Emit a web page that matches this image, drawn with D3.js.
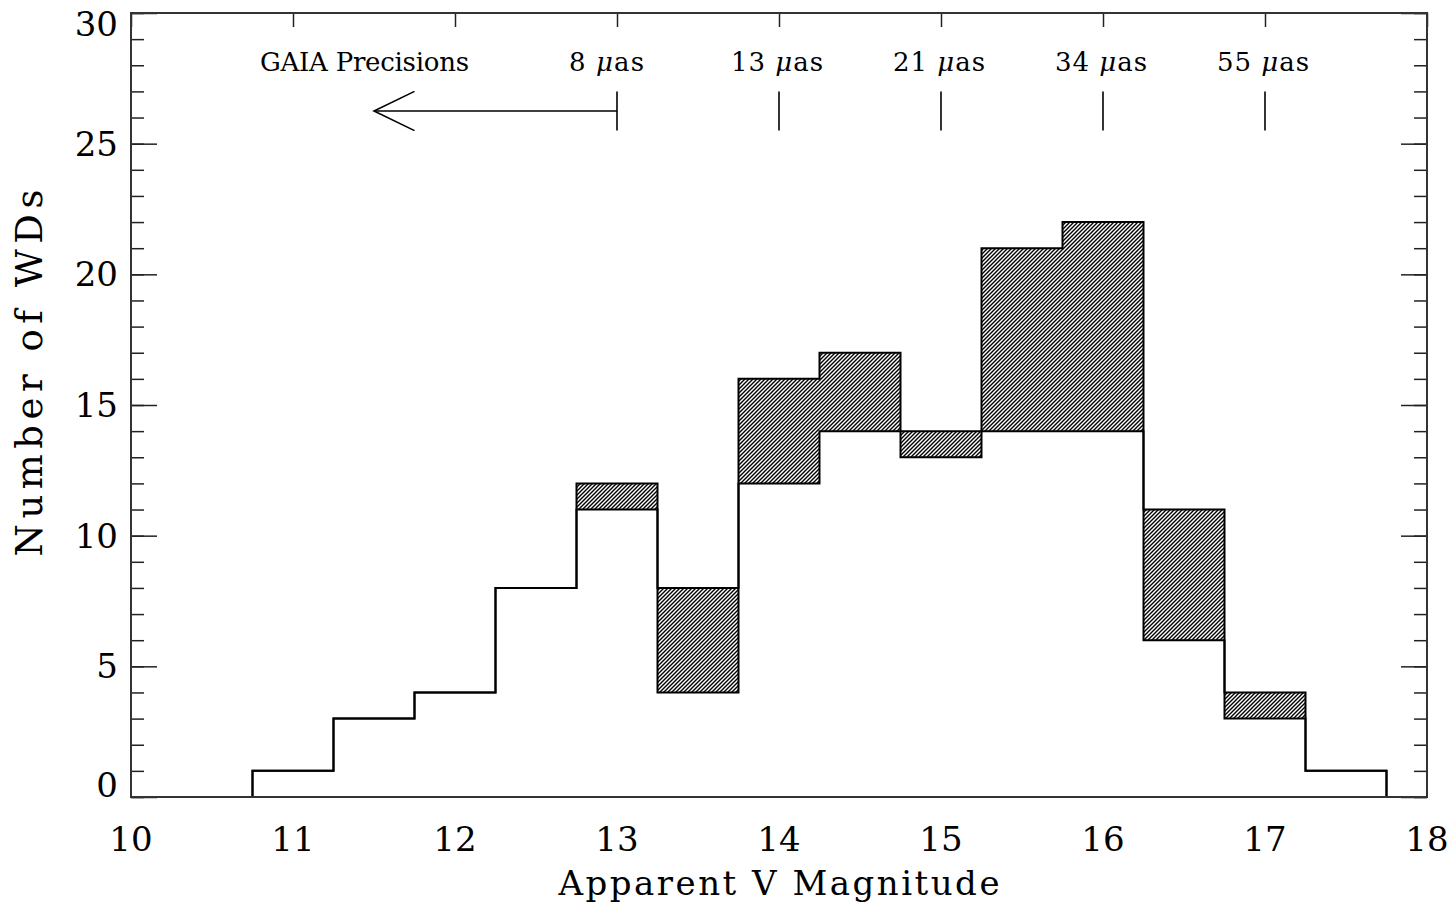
<!DOCTYPE html>
<html lang="en">
<head>
<script src="https://d3js.org/d3.v7.min.js"></script>
<style>
    body { margin: 0; background: #fff; }
    text { font-family: "DejaVu Serif", serif; fill: #000; }
</style>
</head>
<body>
<svg id="chart" width="1453" height="907"></svg>
<script>
// histogram of white dwarfs per 0.5 mag bin
const binCenters = [11, 11.5, 12, 12.5, 13, 13.5, 14, 14.5, 15, 15.5, 16, 16.5, 17, 17.5];
const allCounts  = [1, 3, 4, 8, 12, 8, 16, 17, 14, 21, 22, 11, 4, 1];
const baseCounts = [1, 3, 4, 8, 11, 4, 12, 14, 13, 14, 14, 6, 3, 1];
const binWidth = 0.5;
const histStart = 10.5;
const histEnd = 18;

// GAIA precision markers
const precisionMags = [13, 14, 15, 16, 17];
const precisionLabels = ["8", "13", "21", "34", "55"];

const xTickValues = [10, 11, 12, 13, 14, 15, 16, 17, 18];
const yMajorTicks = [0, 5, 10, 15, 20, 25, 30];

const svg = d3.select("#chart");
const margin = {top: 13, right: 26, bottom: 110, left: 131};
const width = 1453, height = 907;

const x = d3.scaleLinear().domain([10, 18]).range([margin.left, width - margin.right]);
const y = d3.scaleLinear().domain([0, 30]).range([height - margin.bottom, margin.top]);

const defs = svg.append("defs");
defs.append("pattern")
    .attr("id", "hatch")
    .attr("patternUnits", "userSpaceOnUse")
    .attr("width", 4).attr("height", 4)
    .append("path")
    .attr("d", "M-1,1 l2,-2 M0,4 l4,-4 M3,5 l2,-2")
    .attr("stroke", "#000")
    .attr("stroke-width", 1.4);

// step points: left edge of each bin, then closing edge
const lastEdge = binCenters[binCenters.length - 1] + binWidth / 2;
const stepPts = binCenters.map((c, i) => ({e: c - binWidth / 2, all: allCounts[i], base: baseCounts[i]}));
stepPts.push({e: lastEdge, all: 0, base: 0});

// hatched excess between the two histograms
svg.append("path")
    .datum(stepPts)
    .attr("fill", "url(#hatch)")
    .attr("stroke", "none")
    .attr("d", d3.area()
        .x(d => x(d.e))
        .y0(d => y(d.base))
        .y1(d => y(d.all))
        .curve(d3.curveStepAfter));

const stepLine = key => d3.line().x(d => x(d.e)).y(d => y(d[key])).curve(d3.curveStepAfter);
const outline = [{e: histStart, all: 0, base: 0}].concat(stepPts, [{e: histEnd, all: 0, base: 0}]);

["all", "base"].forEach(key => {
    svg.append("path")
        .datum(outline)
        .attr("fill", "none")
        .attr("stroke", "#000")
        .attr("stroke-width", 2)
        .attr("d", stepLine(key));
});

// axes
svg.append("g")
    .attr("transform", `translate(${margin.left},0)`)
    .call(d3.axisRight(y).tickValues(d3.range(0, 31)).tickSize(13).tickFormat(""))
    .call(g => g.select(".domain").remove());
svg.append("g")
    .attr("transform", `translate(${margin.left},0)`)
    .call(d3.axisRight(y).tickValues(yMajorTicks).tickSize(26).tickFormat(""))
    .call(g => g.select(".domain").remove());
svg.append("g")
    .attr("transform", `translate(${width - margin.right},0)`)
    .call(d3.axisLeft(y).tickValues(d3.range(0, 31)).tickSize(13).tickFormat(""))
    .call(g => g.select(".domain").remove());
svg.append("g")
    .attr("transform", `translate(${width - margin.right},0)`)
    .call(d3.axisLeft(y).tickValues(yMajorTicks).tickSize(26).tickFormat(""))
    .call(g => g.select(".domain").remove());
svg.append("g")
    .attr("transform", `translate(0,${margin.top})`)
    .call(d3.axisBottom(x).tickValues(xTickValues).tickSize(14).tickFormat(""))
    .call(g => g.select(".domain").remove());
svg.selectAll(".tick line").attr("stroke", "#222").attr("stroke-width", 1.5);

svg.append("rect")
    .attr("x", margin.left).attr("y", margin.top)
    .attr("width", width - margin.left - margin.right)
    .attr("height", height - margin.top - margin.bottom)
    .attr("fill", "none")
    .attr("stroke", "#333")
    .attr("stroke-width", 2);

// tick labels
svg.selectAll("text.xlab")
    .data(xTickValues)
    .enter().append("text")
    .attr("class", "xlab")
    .attr("x", d => x(d))
    .attr("y", 851)
    .attr("text-anchor", "middle")
    .attr("font-size", 34)
    .text(d => d);

svg.selectAll("text.ylab")
    .data(yMajorTicks)
    .enter().append("text")
    .attr("class", "ylab")
    .attr("x", 118)
    .attr("y", d => Math.min(Math.max(y(d), margin.top + 11), height - margin.bottom - 12) + 12)
    .attr("text-anchor", "end")
    .attr("font-size", 34)
    .text(d => d);

// axis titles
svg.append("text")
    .attr("x", (x(10) + x(18)) / 2)
    .attr("y", 895)
    .attr("text-anchor", "middle")
    .attr("font-size", 34)
    .attr("textLength", 441)
    .attr("lengthAdjust", "spacing")
    .text("Apparent V Magnitude");

svg.append("text")
    .attr("transform", "translate(42,373) rotate(-90)")
    .attr("text-anchor", "middle")
    .attr("font-size", 37)
    .attr("textLength", 367)
    .attr("lengthAdjust", "spacing")
    .text("Number of WDs");

// GAIA precision annotation
svg.append("text")
    .attr("x", 260)
    .attr("y", 71)
    .attr("font-size", 26)
    .attr("textLength", 209)
    .attr("lengthAdjust", "spacing")
    .text("GAIA Precisions");

const ann = svg.append("g").attr("stroke", "#000").attr("stroke-width", 1.6).attr("fill", "none");
ann.append("line")
    .attr("x1", x(11.5)).attr("x2", x(precisionMags[0]))
    .attr("y1", y(26.25)).attr("y2", y(26.25));
ann.append("path")
    .attr("d", `M${x(11.75)},${y(27)} L${x(11.5)},${y(26.25)} L${x(11.75)},${y(25.5)}`);
ann.selectAll("line.pbar")
    .data(precisionMags)
    .enter().append("line")
    .attr("class", "pbar")
    .attr("x1", d => x(d)).attr("x2", d => x(d))
    .attr("y1", y(27)).attr("y2", y(25.5));

const plab = svg.selectAll("text.plab")
    .data(precisionMags)
    .enter().append("text")
    .attr("class", "plab")
    .attr("x", d => x(d) - 48)
    .attr("y", 71)
    .attr("font-size", 26)
    .attr("textLength", (d, i) => precisionLabels[i].length > 1 ? 92 : 75)
    .attr("lengthAdjust", "spacing");
plab.append("tspan").text((d, i) => precisionLabels[i] + " ");
plab.append("tspan").attr("font-style", "italic").text("\u03bc");
plab.append("tspan").text("as");
</script>
</body>
</html>
